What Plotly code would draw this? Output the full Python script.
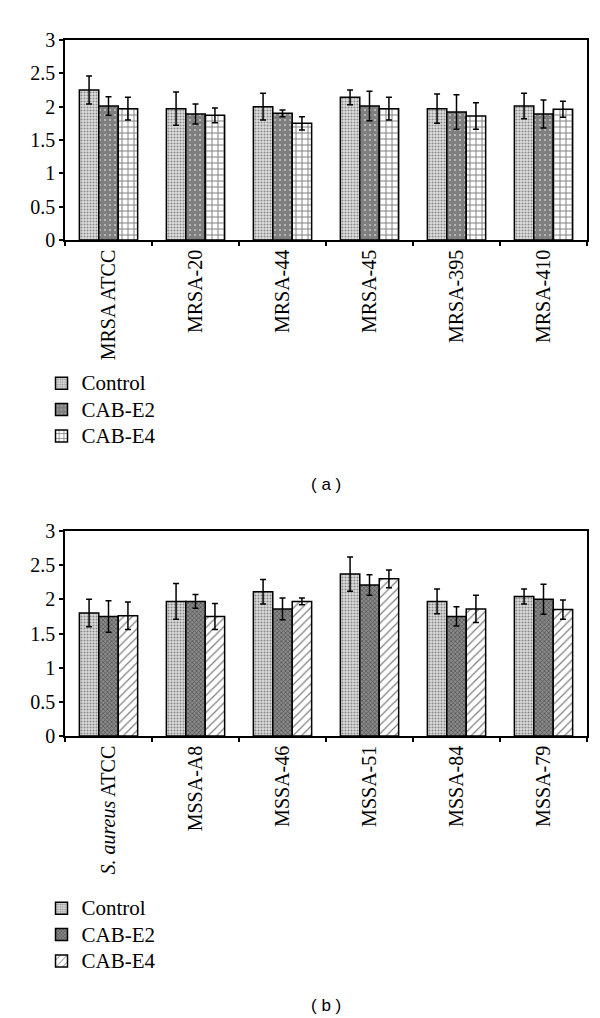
import plotly.graph_objects as go
from plotly.subplots import make_subplots

series_names = ["Control", "CAB-E2", "CAB-E4"]

cats_a = ["MRSA ATCC", "MRSA-20", "MRSA-44", "MRSA-45", "MRSA-395", "MRSA-410"]
control_a = [2.25, 1.97, 2.00, 2.14, 1.97, 2.01]
control_a_err = [0.21, 0.25, 0.20, 0.11, 0.22, 0.19]
e2_a = [2.01, 1.89, 1.90, 2.01, 1.92, 1.89]
e2_a_err = [0.14, 0.15, 0.05, 0.22, 0.26, 0.21]
e4_a = [1.97, 1.87, 1.75, 1.97, 1.86, 1.96]
e4_a_err = [0.17, 0.11, 0.10, 0.17, 0.20, 0.12]

cats_b = ["<i>S. aureus</i> ATCC", "MSSA-A8", "MSSA-46", "MSSA-51", "MSSA-84", "MSSA-79"]
control_b = [1.80, 1.97, 2.11, 2.37, 1.97, 2.04]
control_b_err = [0.20, 0.26, 0.18, 0.25, 0.18, 0.11]
e2_b = [1.75, 1.97, 1.86, 2.21, 1.75, 2.00]
e2_b_err = [0.23, 0.10, 0.16, 0.15, 0.14, 0.22]
e4_b = [1.76, 1.75, 1.97, 2.30, 1.86, 1.85]
e4_b_err = [0.20, 0.19, 0.05, 0.13, 0.20, 0.14]

y_ticks = [0, 0.5, 1, 1.5, 2, 2.5, 3]
y_ticklabels = ["0", "0.5", "1", "1.5", "2", "2.5", "3"]

W, H = 600, 1018
fig = make_subplots(rows=2, cols=1)

patterns_a = [
    dict(shape=".", fgcolor="#333333", bgcolor="#e0e0e0", size=3, solidity=0.4),
    dict(shape=".", fgcolor="black", bgcolor="white", size=5, solidity=0.85),
    dict(shape="+", fgcolor="black", bgcolor="white", size=6, solidity=0.3),
]
patterns_b = [
    dict(shape=".", fgcolor="#333333", bgcolor="#dddddd", size=3, solidity=0.4),
    dict(shape="x", fgcolor="#111111", bgcolor="#8a8a8a", size=3, solidity=0.4),
    dict(shape="/", fgcolor="black", bgcolor="white", size=6, solidity=0.2),
]

data_a = [(control_a, control_a_err), (e2_a, e2_a_err), (e4_a, e4_a_err)]
data_b = [(control_b, control_b_err), (e2_b, e2_b_err), (e4_b, e4_b_err)]

def legend_name(s):
    return "<span style='font-size:21px'>" + s + "</span>"

for i, (vals, errs) in enumerate(data_a):
    fig.add_trace(go.Bar(
        x=cats_a, y=vals, name=legend_name(series_names[i]), legend="legend",
        marker=dict(color="white", pattern=patterns_a[i], line=dict(color="black", width=1.5)),
        error_y=dict(type="data", array=errs, color="black", thickness=1.5, width=3),
    ), row=1, col=1)

for i, (vals, errs) in enumerate(data_b):
    fig.add_trace(go.Bar(
        x=cats_b, y=vals, name=legend_name(series_names[i]), legend="legend2",
        marker=dict(color="white", pattern=patterns_b[i], line=dict(color="black", width=1.5)),
        error_y=dict(type="data", array=errs, color="black", thickness=1.5, width=3),
    ), row=2, col=1)

def ydom(top_px, bot_px):
    return [1 - bot_px / H, 1 - top_px / H]

serif = "Liberation Serif, Times New Roman, serif"

axis_common = dict(showline=True, linecolor="black", linewidth=1.5, mirror=True,
                   showgrid=False, zeroline=False, automargin=False)

fig.update_xaxes(**axis_common, ticks="outside", tickson="boundaries", ticklen=4,
                 tickcolor="black", tickwidth=1.5, tickangle=-90,
                 tickfont=dict(family=serif, size=20, color="black"))
fig.update_yaxes(**axis_common, range=[0, 3], tickvals=y_ticks, ticktext=y_ticklabels,
                 ticks="outside", ticklen=4, tickcolor="black", tickwidth=1.5,
                 tickfont=dict(family=serif, size=20, color="black"))

fig.update_layout(
    width=W, height=H,
    margin=dict(l=57, r=21, t=0, b=0, autoexpand=False),
    paper_bgcolor="white", plot_bgcolor="white",
    barmode="group", bargap=0.33, bargroupgap=0,
    yaxis=dict(domain=ydom(32, 232)),
    yaxis2=dict(domain=ydom(523, 728)),
    legend=dict(x=-0.045, y=1 - 357 / H, xanchor="left", yanchor="top",
                font=dict(family=serif, size=18, color="black"), bgcolor="rgba(0,0,0,0)"),
    legend2=dict(x=-0.045, y=1 - 882 / H, xanchor="left", yanchor="top",
                 font=dict(family=serif, size=18, color="black"), bgcolor="rgba(0,0,0,0)"),
    annotations=[
        dict(text="( a )", x=0.5, xref="paper", y=1 - 477 / H, yref="paper",
             xanchor="center", yanchor="middle", showarrow=False,
             font=dict(family="Liberation Sans, Arial, sans-serif", size=17, color="black")),
        dict(text="( b )", x=0.5, xref="paper", y=1 - 997 / H, yref="paper",
             xanchor="center", yanchor="middle", showarrow=False,
             font=dict(family="Liberation Sans, Arial, sans-serif", size=17, color="black")),
    ],
    showlegend=True,
)

fig.write_html("out.html")
